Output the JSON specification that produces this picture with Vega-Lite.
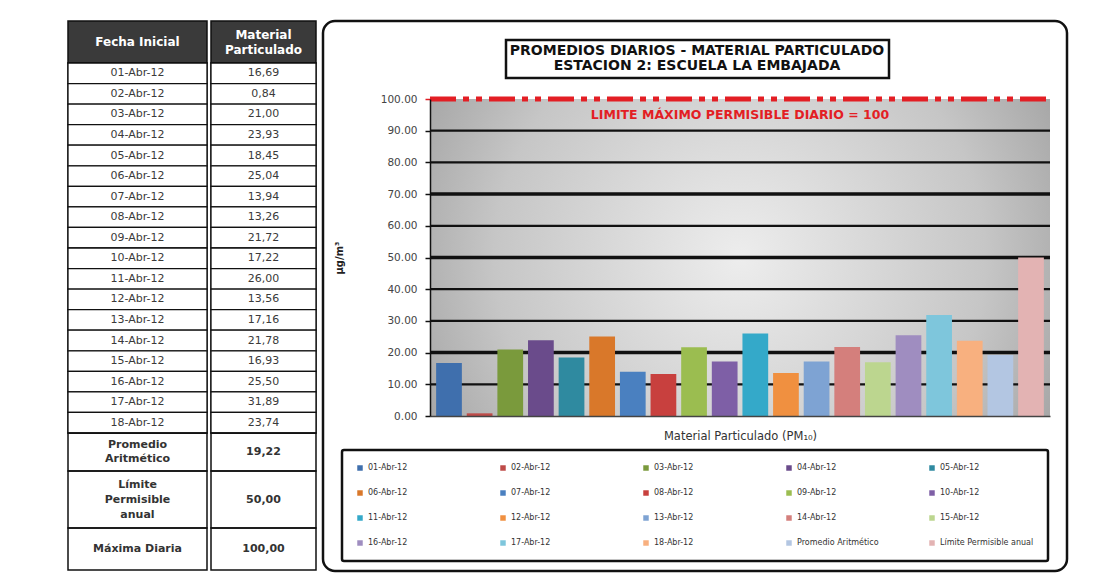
{
  "$schema": "https://vega.github.io/schema/vega-lite/v6.json",
  "background": "white",
  "padding": {"left": 66, "top": 19, "right": 4, "bottom": 4},
  "config": {
    "font": "DejaVu Sans",
    "locale": {"number": {"decimal": ",", "thousands": ".", "grouping": [3], "currency": ["$", ""]}},
    "view": {"stroke": null},
    "legend": {"strokeWidth": 2.5}
  },
  "datasets": {
    "pm10": [
      {"fecha": "01-Abr-12", "pm10": 16.69, "tipo": "diario"},
      {"fecha": "02-Abr-12", "pm10": 0.84, "tipo": "diario"},
      {"fecha": "03-Abr-12", "pm10": 21.00, "tipo": "diario"},
      {"fecha": "04-Abr-12", "pm10": 23.93, "tipo": "diario"},
      {"fecha": "05-Abr-12", "pm10": 18.45, "tipo": "diario"},
      {"fecha": "06-Abr-12", "pm10": 25.04, "tipo": "diario"},
      {"fecha": "07-Abr-12", "pm10": 13.94, "tipo": "diario"},
      {"fecha": "08-Abr-12", "pm10": 13.26, "tipo": "diario"},
      {"fecha": "09-Abr-12", "pm10": 21.72, "tipo": "diario"},
      {"fecha": "10-Abr-12", "pm10": 17.22, "tipo": "diario"},
      {"fecha": "11-Abr-12", "pm10": 26.00, "tipo": "diario"},
      {"fecha": "12-Abr-12", "pm10": 13.56, "tipo": "diario"},
      {"fecha": "13-Abr-12", "pm10": 17.16, "tipo": "diario"},
      {"fecha": "14-Abr-12", "pm10": 21.78, "tipo": "diario"},
      {"fecha": "15-Abr-12", "pm10": 16.93, "tipo": "diario"},
      {"fecha": "16-Abr-12", "pm10": 25.50, "tipo": "diario"},
      {"fecha": "17-Abr-12", "pm10": 31.89, "tipo": "diario"},
      {"fecha": "18-Abr-12", "pm10": 23.74, "tipo": "diario"},
      {"fecha": "Promedio Aritmético", "pm10": 19.22, "tipo": "promedio"},
      {"fecha": "Límite Permisible anual", "pm10": 50.00, "tipo": "limite"}
    ],
    "maxima": [
      {"concepto": "Máxima Diaria", "valor": 100, "rotulo": "LIMITE MÁXIMO PERMISIBLE DIARIO = 100"}
    ],
    "estacion": [
      {"estacion": "ESTACION 2: ESCUELA LA EMBAJADA"}
    ],
    "rejilla": [
      {"valor": 10}, {"valor": 20}, {"valor": 30}, {"valor": 40}, {"valor": 50},
      {"valor": 60}, {"valor": 70}, {"valor": 80}, {"valor": 90}
    ]
  },
  "spacing": 3,
  "hconcat": [
    {
      "spacing": 0,
      "hconcat": [
        {
          "spacing": 0,
          "bounds": "flush",
          "vconcat": [
            {
              "width": 139, "height": 42,
              "view": {"fill": "#3a3a3a", "stroke": "#111", "strokeWidth": 1.5},
              "data": {"values": [{"columna": "Fecha Inicial"}]},
              "mark": {"type": "text", "color": "white", "fontWeight": "bold", "fontSize": 12},
              "encoding": {"text": {"field": "columna"}}
            },
            {
              "width": 139, "height": 370,
              "view": {"stroke": "#111", "strokeWidth": 1.5},
              "data": {"name": "pm10"},
              "transform": [{"filter": "datum.tipo == 'diario'"}],
              "encoding": {"y": {"field": "fecha", "type": "nominal", "sort": null, "axis": null, "scale": {"paddingInner": 0, "paddingOuter": 0}}},
              "layer": [
                {"mark": {"type": "rect", "fill": "white", "stroke": "#111", "strokeWidth": 1.3}},
                {"mark": {"type": "text", "fontSize": 11, "color": "#3a3a3a"}, "encoding": {"text": {"field": "fecha"}}}
              ]
            },
            {
              "width": 139, "height": 38,
              "view": {"stroke": "#111", "strokeWidth": 1.5},
              "data": {"name": "pm10"},
              "transform": [{"filter": "datum.tipo == 'promedio'"}],
              "mark": {"type": "text", "fontSize": 11, "fontWeight": "bold", "color": "#333", "lineBreak": " ", "lineHeight": 14, "dy": -7},
              "encoding": {"text": {"field": "fecha"}}
            },
            {
              "width": 139, "height": 57,
              "view": {"stroke": "#111", "strokeWidth": 1.5},
              "data": {"name": "pm10"},
              "transform": [{"filter": "datum.tipo == 'limite'"}],
              "mark": {"type": "text", "fontSize": 11, "fontWeight": "bold", "color": "#333", "lineBreak": " ", "lineHeight": 15, "dy": -15},
              "encoding": {"text": {"field": "fecha"}}
            },
            {
              "width": 139, "height": 42,
              "view": {"stroke": "#111", "strokeWidth": 1.5},
              "data": {"name": "maxima"},
              "mark": {"type": "text", "fontSize": 11, "fontWeight": "bold", "color": "#333"},
              "encoding": {"text": {"field": "concepto"}}
            }
          ]
        },
        {
          "spacing": 0,
          "bounds": "flush",
          "vconcat": [
            {
              "width": 105, "height": 42,
              "view": {"fill": "#3a3a3a", "stroke": "#111", "strokeWidth": 1.5},
              "data": {"values": [{"columna": "Material Particulado"}]},
              "mark": {"type": "text", "color": "white", "fontWeight": "bold", "fontSize": 12, "lineBreak": " ", "lineHeight": 15, "dy": -7.5},
              "encoding": {"text": {"field": "columna"}}
            },
            {
              "width": 105, "height": 370,
              "view": {"stroke": "#111", "strokeWidth": 1.5},
              "data": {"name": "pm10"},
              "transform": [{"filter": "datum.tipo == 'diario'"}],
              "encoding": {"y": {"field": "fecha", "type": "nominal", "sort": null, "axis": null, "scale": {"paddingInner": 0, "paddingOuter": 0}}},
              "layer": [
                {"mark": {"type": "rect", "fill": "white", "stroke": "#111", "strokeWidth": 1.3}},
                {"mark": {"type": "text", "fontSize": 11, "color": "#3a3a3a"}, "encoding": {"text": {"field": "pm10", "type": "quantitative", "format": ".2f"}}}
              ]
            },
            {
              "width": 105, "height": 38,
              "view": {"stroke": "#111", "strokeWidth": 1.5},
              "data": {"name": "pm10"},
              "transform": [{"filter": "datum.tipo == 'promedio'"}],
              "mark": {"type": "text", "fontSize": 11, "fontWeight": "bold", "color": "#333"},
              "encoding": {"text": {"field": "pm10", "type": "quantitative", "format": ".2f"}}
            },
            {
              "width": 105, "height": 57,
              "view": {"stroke": "#111", "strokeWidth": 1.5},
              "data": {"name": "pm10"},
              "transform": [{"filter": "datum.tipo == 'limite'"}],
              "mark": {"type": "text", "fontSize": 11, "fontWeight": "bold", "color": "#333"},
              "encoding": {"text": {"field": "pm10", "type": "quantitative", "format": ".2f"}}
            },
            {
              "width": 105, "height": 42,
              "view": {"stroke": "#111", "strokeWidth": 1.5},
              "data": {"name": "maxima"},
              "mark": {"type": "text", "fontSize": 11, "fontWeight": "bold", "color": "#333"},
              "encoding": {"text": {"field": "valor", "type": "quantitative", "format": ".2f"}}
            }
          ]
        }
      ]
    },
    {
      "width": 744, "height": 550,
      "view": {"stroke": "#111", "strokeWidth": 2.5, "cornerRadius": 12},
      "resolve": {"scale": {"x": "independent"}},
      "layer": [
        {
          "data": {"name": "maxima"},
          "mark": {"type": "rect", "fill": {"gradient": "radial", "x1": 0.5, "y1": 0.5, "x2": 0.5, "y2": 0.5, "r1": 0, "r2": 0.72,
            "stops": [{"offset": 0, "color": "#ededed"}, {"offset": 0.55, "color": "#c6c6c6"}, {"offset": 1, "color": "#8a8a8a"}]}},
          "encoding": {
            "x": {"datum": 0, "type": "quantitative", "scale": {"domain": [0, 1], "range": [107, 727]}, "axis": null},
            "x2": {"datum": 1},
            "y": {"datum": 0, "type": "quantitative", "scale": {"domain": [0, 100], "range": [395, 78], "nice": false}, "title": "µg/m³"},
            "y2": {"datum": 100}
          }
        },
        {
          "data": {"name": "rejilla"},
          "mark": {"type": "rule", "color": "#111"},
          "encoding": {
            "x": {"datum": 0, "type": "quantitative", "scale": {"domain": [0, 1], "range": [107, 727]}, "axis": null},
            "x2": {"datum": 1},
            "y": {"field": "valor", "type": "quantitative", "scale": {"domain": [0, 100], "range": [395, 78], "nice": false}, "title": "µg/m³"},
            "strokeWidth": {"condition": {"test": "datum.valor == 20 || datum.valor == 50 || datum.valor == 70", "value": 3.5}, "value": 2.3}
          }
        },
        {
          "data": {"name": "maxima"},
          "mark": {"type": "rule", "color": "#e31e24", "strokeWidth": 5, "strokeDash": [26, 7, 6, 7, 6, 7]},
          "encoding": {
            "x": {"datum": 0, "type": "quantitative", "scale": {"domain": [0, 1], "range": [107, 727]}, "axis": null},
            "x2": {"datum": 1},
            "y": {"field": "valor", "type": "quantitative", "scale": {"domain": [0, 100], "range": [395, 78], "nice": false}, "title": "µg/m³"}
          }
        },
        {
          "data": {"name": "pm10"},
          "mark": {"type": "bar"},
          "encoding": {
            "x": {"field": "fecha", "type": "nominal", "sort": null,
              "scale": {"range": [107, 727], "paddingInner": 0.16, "paddingOuter": 0.2},
              "axis": {"title": "Material Particulado (PM₁₀)", "labels": false, "ticks": false, "domainColor": "#444", "domainWidth": 1.5, "offset": -155, "titlePadding": 14, "titleFontSize": 11.5, "titleFontWeight": "normal", "titleColor": "#333", "zindex": 1}},
            "y": {"field": "pm10", "type": "quantitative", "scale": {"domain": [0, 100], "range": [395, 78], "nice": false}, "title": "µg/m³",
              "axis": {"offset": -107, "values": [0, 10, 20, 30, 40, 50, 60, 70, 80, 90, 100], "labelExpr": "datum.value + '.00'", "grid": false,
                "domainColor": "#111", "domainWidth": 1.5, "tickSize": 5, "tickWidth": 1.5,
                "tickColor": {"condition": {"test": "datum.value == 100", "value": "#e31e24"}, "value": "#111"},
                "labelFontSize": 10.5, "labelColor": "#444", "labelPadding": 8, "titleFontSize": 10, "titleFontWeight": "bold", "titleColor": "#222", "titlePadding": 36, "zindex": 1}},
            "color": {"field": "fecha", "type": "nominal", "sort": null,
              "scale": {"range": ["#3f6fad", "#be4b48", "#7a9a3c", "#6a4b8b", "#2f8aa0", "#d9782a", "#4a80c0", "#c8403e", "#9bbd50", "#7e5fa6", "#34a9c9", "#f09040", "#7ea3d3", "#d47f7c", "#bcd68f", "#9f8dc0", "#7ec6dc", "#f8b07f", "#b3c6e2", "#e3b3b3"]},
              "legend": {"orient": "none", "legendX": 274, "legendY": 429, "direction": "horizontal", "columns": 5, "title": null,
                "symbolType": "square", "symbolSize": 30, "symbolStrokeWidth": 0, "labelFontSize": 8, "labelColor": "#333", "labelLimit": 200,
                "columnPadding": 37, "rowPadding": 17, "padding": 14, "strokeColor": "#111", "cornerRadius": 2, "gridAlign": "all"}}
          }
        },
        {
          "data": {"name": "maxima"},
          "mark": {"type": "text", "color": "#e31e24", "fontWeight": "bold", "fontSize": 12.5, "dy": 16},
          "encoding": {
            "x": {"datum": 0.5, "type": "quantitative", "scale": {"domain": [0, 1], "range": [107, 727]}, "axis": null},
            "y": {"field": "valor", "type": "quantitative", "scale": {"domain": [0, 100], "range": [395, 78], "nice": false}, "title": "µg/m³"},
            "text": {"field": "rotulo"}
          }
        },
        {
          "data": {"name": "estacion"},
          "mark": {"type": "point", "opacity": 0},
          "encoding": {
            "shape": {"field": "estacion", "type": "nominal",
              "legend": {"orient": "none", "legendX": 438, "legendY": 19,
                "title": ["PROMEDIOS DIARIOS - MATERIAL PARTICULADO", "ESTACION 2: ESCUELA LA EMBAJADA"],
                "titleFontSize": 14, "titleFontWeight": "bold", "titleColor": "#111", "titleAnchor": "middle", "titleAlign": "center", "titleLineHeight": 15, "titlePadding": 0, "titleLimit": 600,
                "padding": 4, "strokeColor": "#111", "symbolSize": 0, "symbolOpacity": 0, "symbolStrokeWidth": 0, "labelExpr": "''", "labelFontSize": 1}}
          }
        }
      ]
    }
  ]
}
